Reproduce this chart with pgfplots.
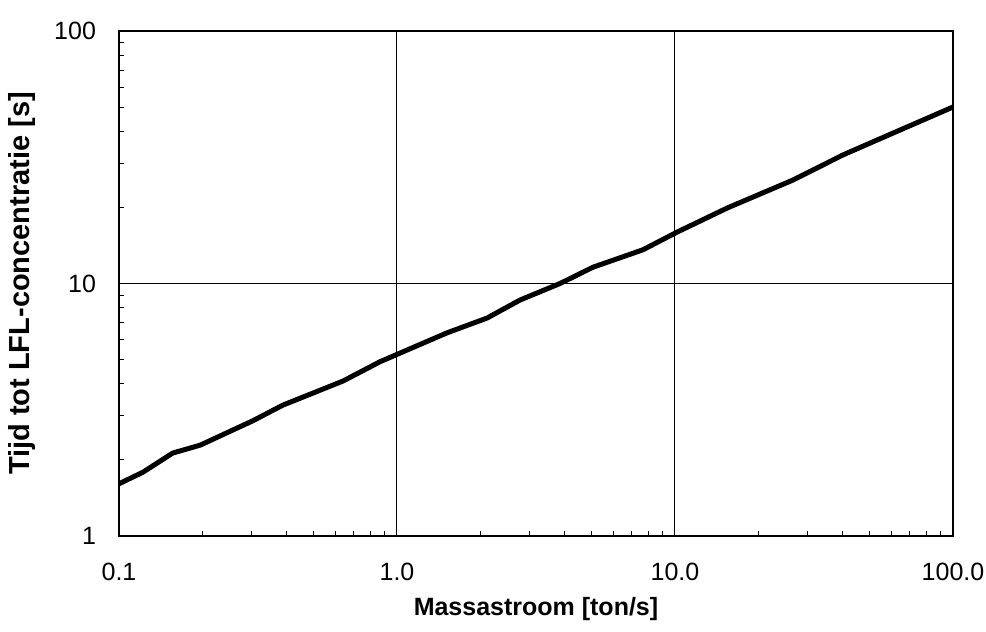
\documentclass[border=0pt]{standalone}
\usepackage{pgfplots}
\pgfplotsset{compat=1.18}
\usepackage{fontspec}
\setmainfont{Liberation Sans}
\begin{document}
\begin{tikzpicture}
\useasboundingbox (-59.5pt,-48pt) rectangle (433.5pt,268pt);
\begin{axis}[
  at={(0,0)}, anchor=south west,
  scale only axis, width=417pt, height=252.5pt,
  xmode=log, ymode=log,
  xmin=0.1, xmax=100, ymin=1, ymax=100,
  xtick={0.1,1,10,100}, xticklabels={0.1,1.0,10.0,100.0},
  ytick={1,10,100}, yticklabels={1,10,100},
  xtick pos=left, ytick pos=left,
  tick align=inside,
  major tick length=0pt, minor tick length=2.5pt,
  grid=major,
  major grid style={black, line width=0.5pt},
  axis line style={black, line width=0.7pt},
  every tick/.style={black, line width=0.5pt},
  tick label style={font=\fontsize{12.5}{14}\selectfont},
  /pgf/number format/assume math mode=true,
  xticklabel style={yshift=-10pt},
  yticklabel style={xshift=-8pt},
  xlabel={\textbf{Massastroom [ton/s]}},
  ylabel={\textbf{Tijd tot LFL-concentratie [s]}},
  xlabel style={font=\fontsize{12.5}{14}\selectfont, at={(axis description cs:0.5,-0.1446)}, anchor=center},
  ylabel style={font=\fontsize{14.5}{16}\selectfont, at={(axis description cs:-0.1163,0.5)}, anchor=center},
]
\addplot[black, line width=2.5pt, line join=round] coordinates {
(0.1,1.61) (0.122,1.79) (0.156,2.13) (0.196,2.29) (0.303,2.86) (0.389,3.30)
(0.64,4.11) (0.869,4.90) (1.51,6.37) (2.11,7.30) (2.77,8.6) (3.86,10.0)
(5.07,11.6) (7.67,13.6) (10.2,16.0) (15.4,19.9) (26.6,25.7) (40.2,32.3)
(64.4,40.5) (100,50.0)
};
\end{axis}
\end{tikzpicture}
\end{document}
